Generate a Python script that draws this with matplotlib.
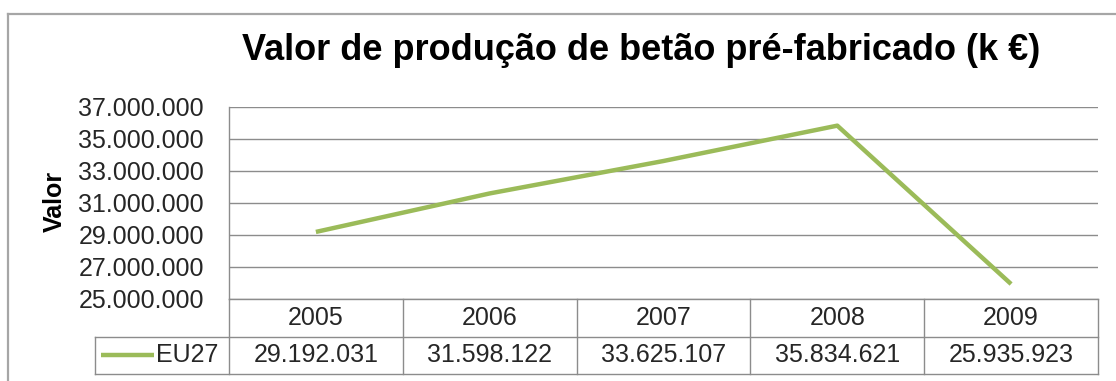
import matplotlib
matplotlib.use("Agg")
import matplotlib.pyplot as plt
from matplotlib.lines import Line2D

# Data
years = ["2005", "2006", "2007", "2008", "2009"]
series_name = "EU27"
values = [29192031, 31598122, 33625107, 35834621, 25935923]
yticks = [25000000, 27000000, 29000000, 31000000, 33000000, 35000000, 37000000]

title = "Valor de produção de betão pré-fabricado (k €)"
ylabel = "Valor"

W, H = 1116, 381
DPI = 100
green = "#9BBB59"
grid_c = "#8c8c8c"
text_c = "#262626"

plt.rcParams["font.family"] = ["Liberation Sans", "DejaVu Sans"]


def fmt(v):
    return f"{v:,}".replace(",", ".")


def px_box(x0, y0, x1, y1):
    """Pixel box (top-left origin) -> figure fraction rect."""
    return [x0 / W, 1 - y1 / H, (x1 - x0) / W, (y1 - y0) / H]


fig = plt.figure(figsize=(W / DPI, H / DPI), dpi=DPI)
fig.patch.set_facecolor("white")

# Outer chart frame (top and left edges visible)
fig.add_artist(Line2D([8 / W, 1.0], [1 - 14 / H, 1 - 14 / H], transform=fig.transFigure,
                      color="#a6a6a6", lw=1.6))
fig.add_artist(Line2D([8 / W, 8 / W], [0.0, 1 - 14 / H], transform=fig.transFigure,
                      color="#a6a6a6", lw=1.6))

# Plot area
x0, x1 = 229, 1098
ax = fig.add_axes(px_box(x0, 107, x1, 299))
xs = list(range(len(years)))
ax.plot(xs, values, color=green, lw=3.2, solid_capstyle="butt", zorder=3)
ax.set_xlim(-0.5, len(years) - 0.5)
ax.set_ylim(yticks[0], yticks[-1])
ax.set_yticks(yticks)
ax.set_yticklabels([fmt(t) for t in yticks], fontsize=18, color=text_c)
ax.tick_params(axis="y", length=0, pad=18)
ax.set_xticks([])
ax.grid(axis="y", color=grid_c, lw=1.0)
ax.set_axisbelow(True)
for s in ["top", "right", "bottom"]:
    ax.spines[s].set_visible(False)
ax.spines["left"].set_color(grid_c)
ax.spines["left"].set_linewidth(1.0)
ax.set_facecolor("none")

fig.text(55 / W, 1 - 201 / H, ylabel, rotation=90, fontsize=18, fontweight="bold",
         color="black", ha="center", va="center")

fig.text(641 / W, 1 - 50 / H, title, fontsize=26, fontweight="bold",
         color="black", ha="center", va="center")

# Data table below the plot area
col_w = (x1 - x0) / len(years)
tx0 = 95
tax = fig.add_axes(px_box(tx0, 299, x1, 374))
tax.set_xlim(-0.5 - (x0 - tx0) / col_w, len(years) - 0.5)
tax.set_ylim(0, 2)
tax.axis("off")
left_edge = -0.5 - (x0 - tx0) / col_w
kw = dict(color=grid_c, lw=1.0, clip_on=False)
# horizontal lines
tax.plot([-0.5, len(years) - 0.5], [2, 2], **kw)
tax.plot([left_edge, len(years) - 0.5], [1, 1], **kw)
tax.plot([left_edge, len(years) - 0.5], [0, 0], **kw)
# vertical lines
tax.plot([left_edge, left_edge], [0, 1], **kw)
for i in range(len(years) + 1):
    tax.plot([i - 0.5, i - 0.5], [0, 2], **kw)

for i, (yr, v) in enumerate(zip(years, values)):
    tax.text(i, 1.5, yr, ha="center", va="center", fontsize=18, color=text_c)
    tax.text(i, 0.5, fmt(v), ha="center", va="center", fontsize=18, color=text_c)

# Legend key inside the first data cell
key_l = left_edge + 6 / col_w
key_r = left_edge + 59 / col_w
tax.plot([key_l, key_r], [0.5, 0.5], color=green, lw=3.2, solid_capstyle="butt", clip_on=False)
tax.text(-0.5 - 11 / col_w, 0.5, series_name, ha="right", va="center", fontsize=18, color=text_c)

fig.savefig("out.png", dpi=DPI)
